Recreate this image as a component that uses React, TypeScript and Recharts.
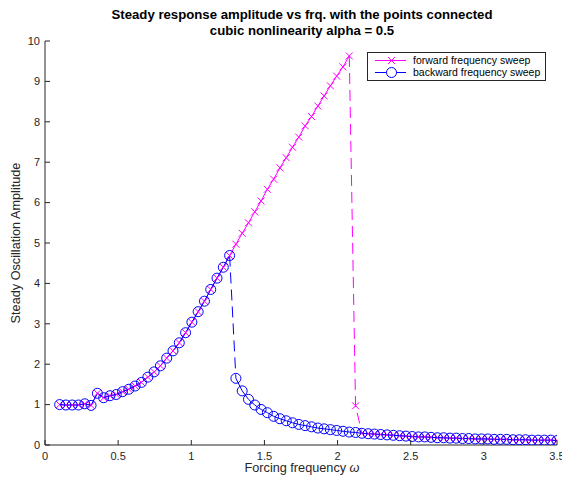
import React from "react";
import { LineChart, Line, XAxis, YAxis } from "recharts";

// forcing frequencies (80 samples, 0.1 .. 3.5)
const freq = [
  0.1, 0.143, 0.186, 0.229, 0.272, 0.315, 0.358, 0.401, 0.444, 0.487,
  0.53, 0.573, 0.616, 0.659, 0.703, 0.746, 0.789, 0.832, 0.875, 0.918,
  0.961, 1.004, 1.047, 1.09, 1.133, 1.176, 1.219, 1.262, 1.305, 1.348,
  1.391, 1.434, 1.477, 1.52, 1.563, 1.606, 1.649, 1.692, 1.735, 1.778,
  1.822, 1.865, 1.908, 1.951, 1.994, 2.037, 2.08, 2.123, 2.166, 2.209,
  2.252, 2.295, 2.338, 2.381, 2.424, 2.467, 2.51, 2.553, 2.596, 2.639,
  2.682, 2.725, 2.768, 2.811, 2.854, 2.897, 2.941, 2.984, 3.027, 3.07,
  3.113, 3.156, 3.199, 3.242, 3.285, 3.328, 3.371, 3.414, 3.457, 3.5,
];

const forwardSweep = [
  1.0, 0.99, 0.99, 0.99, 1.02, 0.98, 1.28, 1.17, 1.22, 1.25,
  1.32, 1.38, 1.46, 1.55, 1.68, 1.81, 1.96, 2.15, 2.33, 2.53,
  2.78, 3.04, 3.3, 3.56, 3.85, 4.13, 4.4, 4.69, 4.97, 5.24,
  5.5, 5.77, 6.04, 6.33, 6.58, 6.86, 7.11, 7.37, 7.62, 7.9,
  8.13, 8.39, 8.64, 8.89, 9.13, 9.36, 9.63, 0.97, 0.29, 0.28,
  0.27, 0.26, 0.25, 0.24, 0.23, 0.22, 0.21, 0.2, 0.2, 0.19,
  0.18, 0.18, 0.17, 0.17, 0.16, 0.16, 0.15, 0.15, 0.15, 0.14,
  0.14, 0.14, 0.13, 0.13, 0.13, 0.12, 0.12, 0.12, 0.12, 0.11,
];

const backwardSweep = [
  1.0, 0.99, 0.99, 0.99, 1.02, 0.98, 1.28, 1.17, 1.22, 1.25,
  1.32, 1.38, 1.46, 1.55, 1.68, 1.81, 1.96, 2.15, 2.33, 2.53,
  2.78, 3.04, 3.3, 3.56, 3.85, 4.13, 4.4, 4.69, 1.65, 1.34,
  1.13, 0.99, 0.88, 0.8, 0.71, 0.65, 0.6, 0.55, 0.51, 0.48,
  0.45, 0.42, 0.4, 0.38, 0.36, 0.34, 0.32, 0.31, 0.29, 0.28,
  0.27, 0.26, 0.25, 0.24, 0.23, 0.22, 0.21, 0.2, 0.2, 0.19,
  0.18, 0.18, 0.17, 0.17, 0.16, 0.16, 0.15, 0.15, 0.15, 0.14,
  0.14, 0.14, 0.13, 0.13, 0.13, 0.12, 0.12, 0.12, 0.12, 0.11,
];

// index where each sweep jumps (segments drawn dashed)
const fwdJumpStart = 46;
const fwdJumpEnd = 48;
const bwdJumpStart = 27;
const bwdJumpEnd = 28;

const xTicks = [0, 0.5, 1, 1.5, 2, 2.5, 3, 3.5];
const yTicks = [0, 1, 2, 3, 4, 5, 6, 7, 8, 9, 10];

const MAGENTA = "#ff00ff";
const BLUE = "#0000ff";
const AXIS = "#262626";
const FONT = '"Liberation Sans", Arial, Helvetica, sans-serif';

const rows = freq.map((w, i) => ({
  w,
  fwdA: i <= fwdJumpStart ? forwardSweep[i] : null,
  fwdJ: i >= fwdJumpStart && i <= fwdJumpEnd ? forwardSweep[i] : null,
  fwdB: i >= fwdJumpEnd ? forwardSweep[i] : null,
  fwd: forwardSweep[i],
  bwdA: i <= bwdJumpStart ? backwardSweep[i] : null,
  bwdJ: i >= bwdJumpStart && i <= bwdJumpEnd ? backwardSweep[i] : null,
  bwdB: i >= bwdJumpEnd ? backwardSweep[i] : null,
  bwd: backwardSweep[i],
}));

const fmt = (v: number) => String(v);

const BottomTick = (p: any) => (
  <g>
    <line x1={p.x} y1={p.y} x2={p.x} y2={p.y - 5} stroke={AXIS} />
    <text x={p.x} y={p.y + 15} textAnchor="middle" fontSize={11} fill={AXIS} fontFamily={FONT}>
      {fmt(p.payload.value)}
    </text>
  </g>
);
const TopTick = (p: any) => (
  <line x1={p.x} y1={p.y} x2={p.x} y2={p.y + 5} stroke={AXIS} />
);
const LeftTick = (p: any) => (
  <g>
    <line x1={p.x} y1={p.y} x2={p.x + 5} y2={p.y} stroke={AXIS} />
    <text x={p.x - 5} y={p.y} dy="0.35em" textAnchor="end" fontSize={11} fill={AXIS} fontFamily={FONT}>
      {fmt(p.payload.value)}
    </text>
  </g>
);
const RightTick = (p: any) => (
  <line x1={p.x} y1={p.y} x2={p.x - 5} y2={p.y} stroke={AXIS} />
);

const CrossDot = (p: any) => {
  if (p.cx == null || p.cy == null || p.value == null) return <g key={p.index} />;
  const s = 3.5;
  return (
    <g key={p.index}>
      <line x1={p.cx - s} y1={p.cy - s} x2={p.cx + s} y2={p.cy + s} stroke={MAGENTA} />
      <line x1={p.cx - s} y1={p.cy + s} x2={p.cx + s} y2={p.cy - s} stroke={MAGENTA} />
    </g>
  );
};
const CircleDot = (p: any) => {
  if (p.cx == null || p.cy == null || p.value == null) return <g key={p.index} />;
  return <circle key={p.index} cx={p.cx} cy={p.cy} r={5} fill="none" stroke={BLUE} />;
};

const DASH = "11 6";

export default function App() {
  return (
    <div
      style={{
        position: "absolute",
        left: 0,
        top: 0,
        width: 562,
        height: 477,
        background: "#fff",
        fontFamily: FONT,
      }}
    >
      <LineChart width={562} height={477} data={rows} margin={{ top: 41, right: 5, bottom: 0, left: 10 }}>
        <XAxis
          dataKey="w"
          type="number"
          domain={[0, 3.5]}
          ticks={xTicks}
          allowDataOverflow
          height={32}
          tickSize={0}
          tickMargin={0}
          tickLine={false}
          axisLine={{ stroke: AXIS }}
          tick={<BottomTick />}
          interval={0}
        />
        <XAxis
          xAxisId="top"
          orientation="top"
          dataKey="w"
          type="number"
          domain={[0, 3.5]}
          ticks={xTicks}
          allowDataOverflow
          height={0}
          tickSize={0}
          tickMargin={0}
          tickLine={false}
          axisLine={{ stroke: AXIS }}
          tick={<TopTick />}
          interval={0}
        />
        <YAxis
          type="number"
          domain={[0, 10]}
          ticks={yTicks}
          allowDataOverflow
          width={35}
          tickSize={0}
          tickMargin={0}
          tickLine={false}
          axisLine={{ stroke: AXIS }}
          tick={<LeftTick />}
          interval={0}
        />
        <YAxis
          yAxisId="right"
          orientation="right"
          type="number"
          domain={[0, 10]}
          ticks={yTicks}
          allowDataOverflow
          width={0}
          tickSize={0}
          tickMargin={0}
          tickLine={false}
          axisLine={{ stroke: AXIS }}
          tick={<RightTick />}
          interval={0}
        />
        <Line dataKey="fwdA" stroke={MAGENTA} strokeWidth={1} dot={false} isAnimationActive={false} connectNulls={false} />
        <Line dataKey="fwdJ" stroke={MAGENTA} strokeWidth={1} strokeDasharray={DASH} dot={false} isAnimationActive={false} connectNulls={false} />
        <Line dataKey="fwdB" stroke={MAGENTA} strokeWidth={1} dot={false} isAnimationActive={false} connectNulls={false} />
        <Line dataKey="fwd" stroke="none" dot={(p: any) => <CrossDot key={p.index} {...p} />} isAnimationActive={false} />
        <Line dataKey="bwdA" stroke={BLUE} strokeWidth={1} dot={false} isAnimationActive={false} connectNulls={false} />
        <Line dataKey="bwdJ" stroke={BLUE} strokeWidth={1} strokeDasharray={DASH} dot={false} isAnimationActive={false} connectNulls={false} />
        <Line dataKey="bwdB" stroke={BLUE} strokeWidth={1} dot={false} isAnimationActive={false} connectNulls={false} />
        <Line dataKey="bwd" stroke="none" dot={(p: any) => <CircleDot key={p.index} {...p} />} isAnimationActive={false} />
      </LineChart>

      <svg
        width={562}
        height={477}
        style={{ position: "absolute", left: 0, top: 0, pointerEvents: "none" }}
        fontFamily={FONT}
      >
        <text x={302} y={19} textAnchor="middle" fontSize={13.2} fontWeight="bold" fill="#000">
          Steady response amplitude vs frq. with the points connected
        </text>
        <text x={302} y={35} textAnchor="middle" fontSize={13.2} fontWeight="bold" fill="#000">
          cubic nonlinearity alpha = 0.5
        </text>
        <text x={302} y={472} textAnchor="middle" fontSize={12.7} fill={AXIS}>
          Forcing frequency <tspan fontStyle="italic">ω</tspan>
        </text>
        <text
          x={0}
          y={0}
          transform="translate(20 243) rotate(-90)"
          textAnchor="middle"
          fontSize={12.7}
          fill={AXIS}
        >
          Steady Oscillation Amplitude
        </text>

        <rect x={367.5} y={52.5} width={178} height={28} fill="#fff" stroke={AXIS} />
        <line x1={375} y1={60.5} x2={406} y2={60.5} stroke={MAGENTA} />
        <line x1={388} y1={57} x2={395} y2={64} stroke={MAGENTA} />
        <line x1={388} y1={64} x2={395} y2={57} stroke={MAGENTA} />
        <text x={413} y={64} fontSize={10.5} fill="#000">
          forward frequency sweep
        </text>
        <line x1={375} y1={72.5} x2={406} y2={72.5} stroke={BLUE} />
        <circle cx={391.5} cy={72.5} r={5} fill="#fff" stroke={BLUE} />
        <text x={413} y={76} fontSize={10.5} fill="#000">
          backward frequency sweep
        </text>
      </svg>
    </div>
  );
}
